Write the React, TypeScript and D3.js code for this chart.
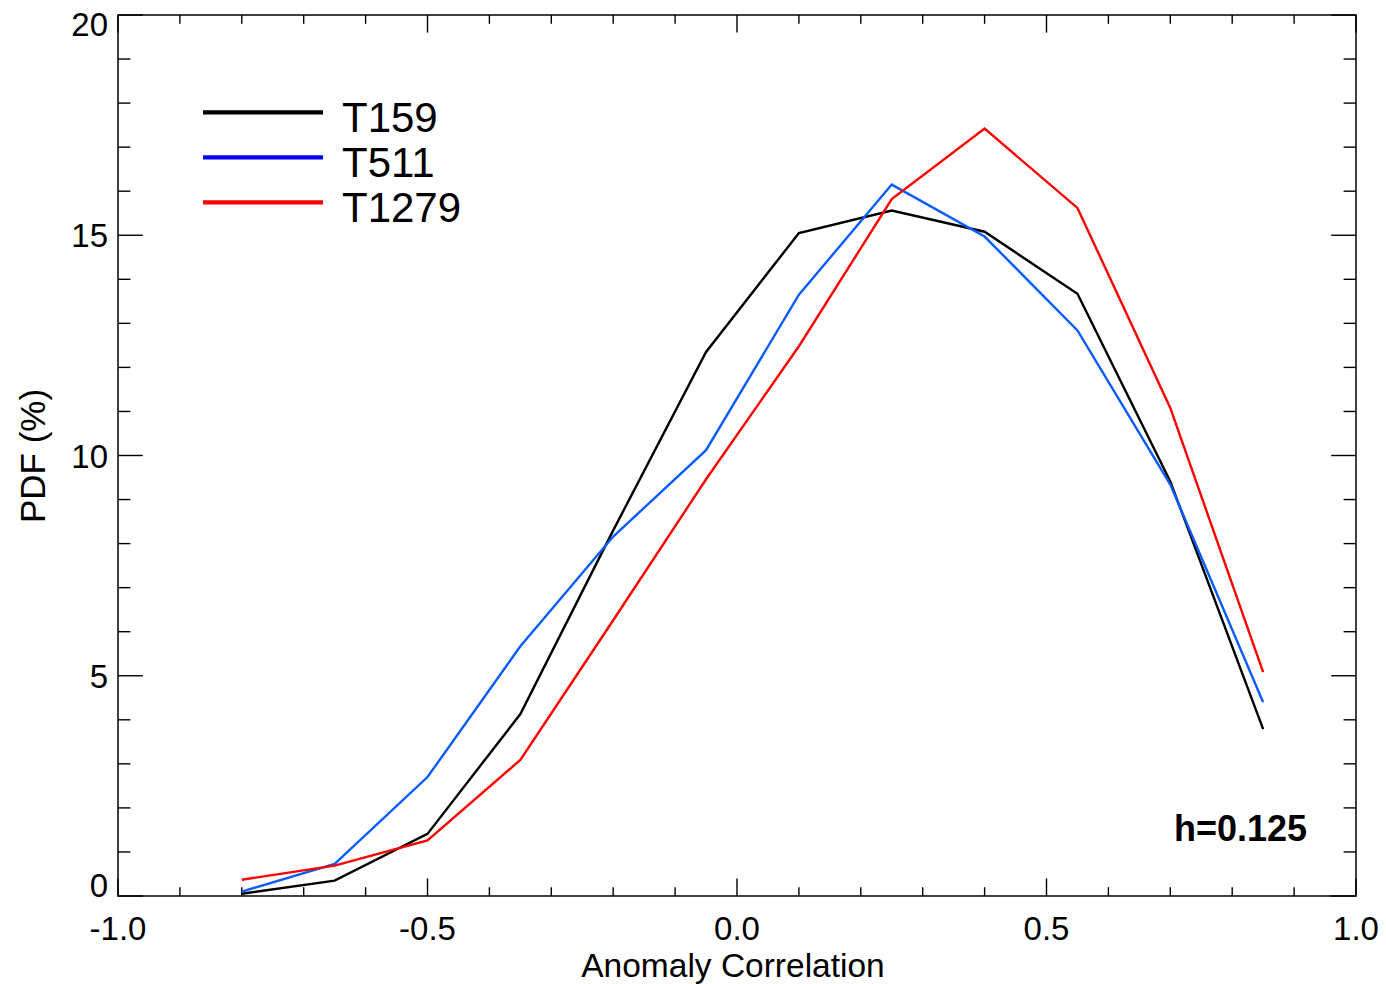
import React from "react";
import * as d3 from "d3";

const xValues = [-0.8, -0.65, -0.5, -0.35, -0.2, -0.05, 0.1, 0.25, 0.4, 0.55, 0.7, 0.85];
const t159 = [0.05, 0.35, 1.41, 4.13, 8.3, 12.35, 15.05, 15.56, 15.08, 13.67, 9.41, 3.79];
const t511 = [0.1, 0.73, 2.7, 5.67, 8.16, 10.12, 13.65, 16.15, 14.97, 12.84, 9.34, 4.4];
const t1279 = [0.37, 0.69, 1.26, 3.09, 6.26, 9.46, 12.48, 15.82, 17.42, 15.62, 11.08, 5.08];

const seriesNames = ["T159", "T511", "T1279"];
const lineColors = ["#000000", "#0a5cff", "#ff0000"];
const legendColors = ["#000000", "#0000ff", "#ff0000"];

const xTickLabels = ["-1.0", "-0.5", "0.0", "0.5", "1.0"];
const yTickLabels = ["0", "5", "10", "15", "20"];

const W = 1386;
const H = 984;
const L = 118, R = 1356, T = 15, B = 896;

export default function App() {
  const x = d3.scaleLinear().domain([-1, 1]).range([L, R]);
  const y = d3.scaleLinear().domain([0, 20]).range([B, T]);
  const data = [t159, t511, t1279];
  const line = d3
    .line<[number, number]>()
    .x((d) => x(d[0]))
    .y((d) => y(d[1]));

  const xMinor = d3.range(0, 21).map((i) => -1 + i * 0.1);
  const yMinor = d3.range(0, 21);
  const xMajLen = 17.6, xMinLen = 8.8, yMajLen = 24.8, yMinLen = 12.4;
  const font = "Liberation Sans, Arial, Helvetica, sans-serif";

  return (
    <svg
      width={W}
      height={H}
      style={{ position: "absolute", left: 0, top: 0, background: "#fff" }}
      fontFamily={font}
    >
      <rect x={0} y={0} width={W} height={H} fill="#fff" />
      {xMinor.map((v, i) => {
        const major = i % 5 === 0;
        const len = major ? xMajLen : xMinLen;
        const xx = x(v);
        return (
          <g key={"xt" + i} stroke="#000" strokeWidth={1.4}>
            <line x1={xx} x2={xx} y1={B} y2={B - len} />
            <line x1={xx} x2={xx} y1={T} y2={T + len} />
          </g>
        );
      })}
      {yMinor.map((v, i) => {
        const major = i % 5 === 0;
        const len = major ? yMajLen : yMinLen;
        const yy = y(v);
        return (
          <g key={"yt" + i} stroke="#000" strokeWidth={1.4}>
            <line x1={L} x2={L + len} y1={yy} y2={yy} />
            <line x1={R} x2={R - len} y1={yy} y2={yy} />
          </g>
        );
      })}
      <rect x={L} y={T} width={R - L} height={B - T} fill="none" stroke="#000" strokeWidth={1.5} />

      {xTickLabels.map((s, i) => (
        <text key={"xl" + i} x={x(+s)} y={940} fontSize={33} textAnchor="middle" fill="#000">
          {s}
        </text>
      ))}
      {yTickLabels.map((s, i) => {
        const cy = Math.min(Math.max(y(+s), 24), 885);
        return (
          <text key={"yl" + i} x={108} y={cy + 12} fontSize={33} textAnchor="end" fill="#000">
            {s}
          </text>
        );
      })}
      <text x={733} y={977} fontSize={33.5} textAnchor="middle" fill="#000">
        Anomaly Correlation
      </text>
      <text
        transform={`translate(45,456) rotate(-90)`}
        fontSize={35}
        textAnchor="middle"
        fill="#000"
      >
        PDF (%)
      </text>

      {data.map((vals, si) => (
        <path
          key={"s" + si}
          d={line(xValues.map((xv, i) => [xv, vals[i]] as [number, number])) || ""}
          fill="none"
          stroke={lineColors[si]}
          strokeWidth={2.4}
          strokeLinejoin="miter"
        />
      ))}

      {seriesNames.map((n, i) => {
        const ly = 112.3 + i * 45;
        return (
          <g key={"lg" + i}>
            <line x1={203} x2={323} y1={ly} y2={ly} stroke={legendColors[i]} strokeWidth={4.2} />
            <text x={342} y={ly + 19.5} fontSize={42} fill="#000">
              {n}
            </text>
          </g>
        );
      })}

      <text x={1307} y={841} fontSize={36} fontWeight="bold" textAnchor="end" fill="#000">
        h=0.125
      </text>
    </svg>
  );
}
